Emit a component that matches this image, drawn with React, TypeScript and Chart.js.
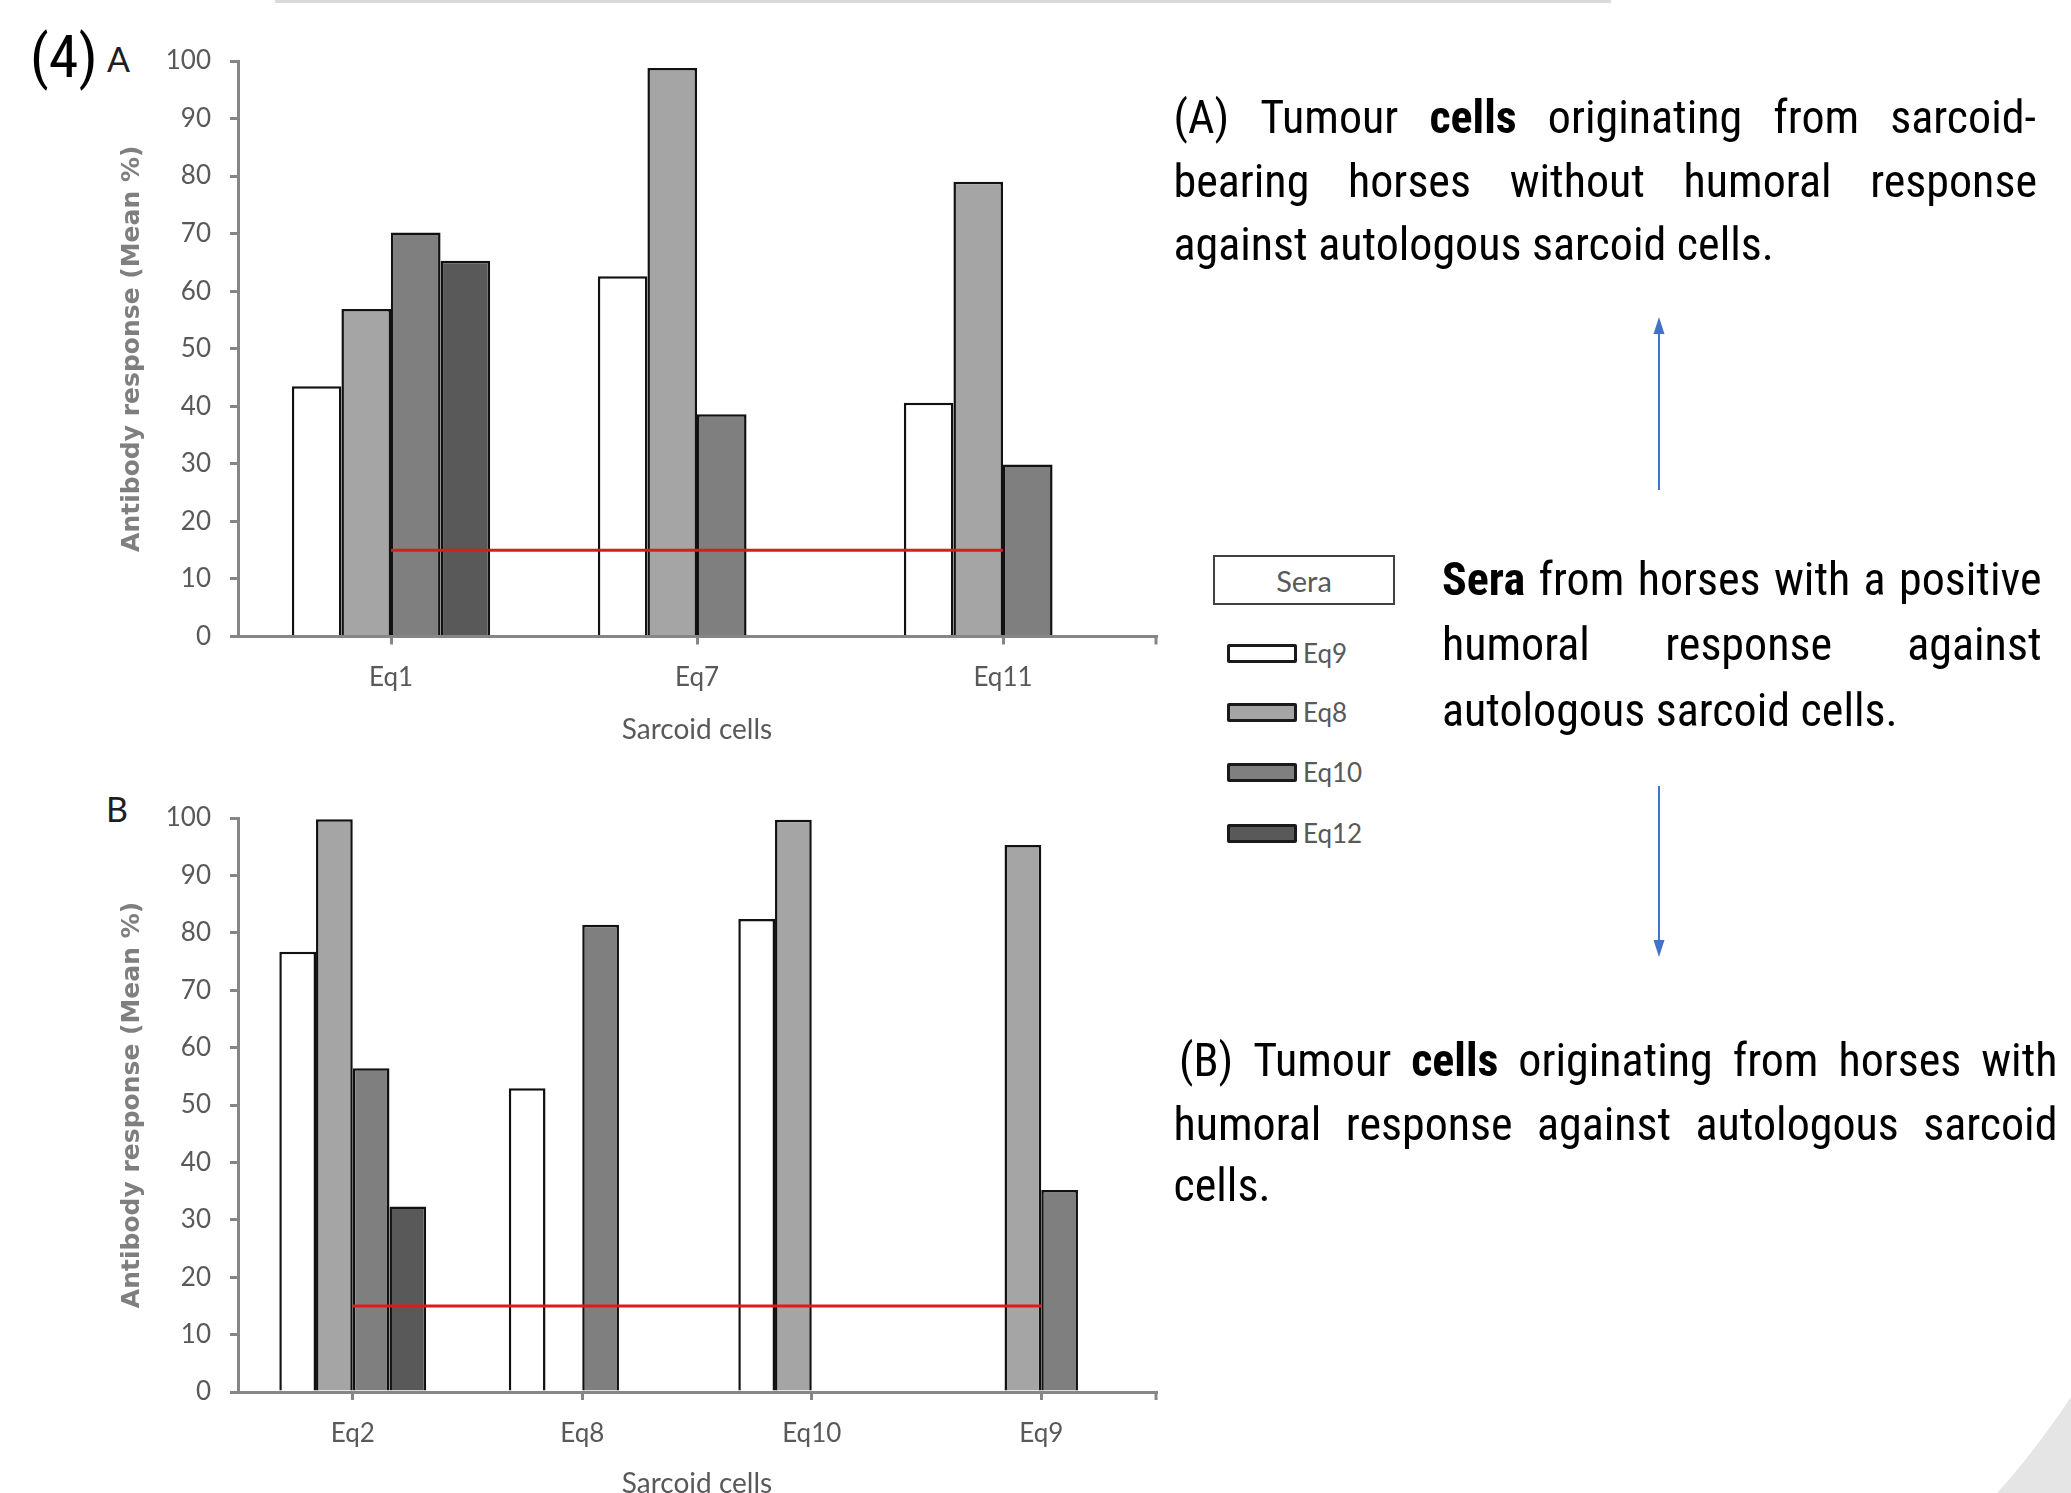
import React, { useEffect, useRef } from 'react';
import { Chart, registerables } from 'chart.js';

Chart.register(...registerables);

// ---------- data ----------
const seriesNames = ['Eq9', 'Eq8', 'Eq10', 'Eq12'];
const seriesColors = ['#ffffff', '#a5a5a5', '#7f7f7f', '#595959'];

const categoriesA = ['Eq1', 'Eq7', 'Eq11'];
const eq9A = [43.5, 62.6, 40.6];
const eq8A = [56.9, 98.8, 79.0];
const eq10A = [70.2, 38.6, 29.9];
const eq12A = [65.3, null, null];
const thresholdA = [15, 15, 15];

const categoriesB = ['Eq2', 'Eq8', 'Eq10', 'Eq9'];
const eq9B = [76.7, 52.9, 82.4, null];
const eq8B = [99.8, null, 99.7, 95.3];
const eq10B = [56.4, 81.4, null, 35.2];
const eq12B = [32.3, null, null, null];
const thresholdB = [15, 15, 15, 15];

const yAxisTitle = 'Antibody response (Mean %)';
const xAxisTitle = 'Sarcoid cells';

// ---------- styling ----------
const tickFont = 'Lato, "Open Sans", sans-serif';
const textFont = '"Liberation Sans Narrow", "Arial Narrow", "Roboto Condensed", "DejaVu Sans Condensed", Roboto, sans-serif';
const axisGray = '#868686';

const endTickPlugin = {
  id: 'endTick',
  afterDraw(chart: any) {
    const { ctx, chartArea } = chart;
    ctx.save();
    ctx.strokeStyle = axisGray;
    ctx.lineWidth = 3;
    ctx.beginPath();
    ctx.moveTo(chartArea.right, chartArea.bottom);
    ctx.lineTo(chartArea.right, chartArea.bottom + 8);
    ctx.stroke();
    ctx.restore();
  },
};

interface LayoutOpts {
  padTop: number;
  xHeight: number;
  catPct: number;
  xTitlePad: number;
}

function buildConfig(labels: string[], series: (number | null)[][], threshold: number[], lo: LayoutOpts): any {
  return {
    type: 'bar',
    data: {
      labels,
      datasets: [
        ...series.map((d, i) => ({
          type: 'bar',
          label: seriesNames[i],
          data: d,
          backgroundColor: seriesColors[i],
          borderColor: '#111111',
          borderWidth: 2.5,
          borderSkipped: 'start',
          categoryPercentage: lo.catPct,
          barPercentage: 1,
          order: 1,
        })),
        {
          type: 'line',
          label: 'threshold',
          data: threshold,
          borderColor: '#dc1c1c',
          borderWidth: 3,
          pointRadius: 0,
          fill: false,
          tension: 0,
          order: 0,
        },
      ],
    },
    options: {
      responsive: false,
      animation: false,
      devicePixelRatio: 1,
      layout: { padding: { top: lo.padTop, right: 44, left: 0, bottom: 0 } },
      plugins: { legend: { display: false }, tooltip: { enabled: false } },
      scales: {
        x: {
          offset: true,
          grid: { offset: false, drawOnChartArea: false, drawTicks: true, tickLength: 8, color: axisGray, lineWidth: 3 },
          border: { color: axisGray, width: 3 },
          ticks: { color: '#595959', font: { family: tickFont, size: 26 }, padding: 18, maxRotation: 0 },
          title: {
            display: true,
            text: xAxisTitle,
            color: '#595959',
            font: { family: tickFont, size: 28 },
            padding: { top: 0, bottom: lo.xTitlePad },
          },
          afterFit: (s: any) => {
            s.height = lo.xHeight;
          },
        },
        y: {
          min: 0,
          max: 100,
          ticks: { stepSize: 10, color: '#595959', font: { family: tickFont, size: 26 }, padding: 19 },
          grid: { drawOnChartArea: false, drawTicks: true, tickLength: 8, color: axisGray, lineWidth: 3 },
          border: { color: axisGray, width: 3 },
          title: {
            display: true,
            text: yAxisTitle,
            color: '#7f7f7f',
            font: { family: '"DejaVu Sans", sans-serif', size: 25, weight: 'bold' },
            padding: { top: 117, bottom: 0 },
          },
          afterFit: (s: any) => {
            s.width = 238;
          },
        },
      },
    },
    plugins: [endTickPlugin],
  };
}

function BarChart(props: {
  labels: string[];
  series: (number | null)[][];
  threshold: number[];
  lo: LayoutOpts;
  left: number;
  top: number;
  width: number;
  height: number;
}) {
  const ref = useRef<HTMLCanvasElement>(null);
  useEffect(() => {
    if (!ref.current) return;
    const chart = new Chart(ref.current, buildConfig(props.labels, props.series, props.threshold, props.lo));
    return () => chart.destroy();
  }, []);
  return (
    <canvas
      ref={ref}
      width={props.width}
      height={props.height}
      style={{ position: 'absolute', left: props.left, top: props.top, width: props.width, height: props.height, display: 'block' }}
    />
  );
}

// ---------- text helpers ----------
const TEXT_SIZE = 46;

function JLine(props: { left: number; right: number; cy: number; words: React.ReactNode[] }) {
  return (
    <div
      style={{
        position: 'absolute',
        left: props.left,
        top: props.cy - 35,
        width: props.right - props.left,
        height: 64,
        lineHeight: '64px',
        fontSize: TEXT_SIZE,
        fontFamily: textFont,
        color: '#000',
        display: 'flex',
        justifyContent: 'space-between',
        whiteSpace: 'nowrap',
      }}
    >
      {props.words.map((w, i) => (
        <span key={i}>{w}</span>
      ))}
    </div>
  );
}

function PLine(props: { left: number; cy: number; children: React.ReactNode }) {
  return (
    <div
      style={{
        position: 'absolute',
        left: props.left,
        top: props.cy - 35,
        height: 64,
        lineHeight: '64px',
        fontSize: TEXT_SIZE,
        fontFamily: textFont,
        color: '#000',
        whiteSpace: 'pre',
      }}
    >
      {props.children}
    </div>
  );
}

const B = (t: string) => <b>{t}</b>;

export default function App() {
  const legendY = [653, 712, 772, 833];
  return (
    <div
      style={{
        position: 'absolute',
        left: 0,
        top: 0,
        width: 2071,
        height: 1493,
        overflow: 'hidden',
        background: '#fff',
      }}
    >
      {/* top rule */}
      <div style={{ position: 'absolute', left: 275, top: 0, width: 1336, height: 3, background: '#dadada' }} />

      {/* panel labels */}
      <div style={{ position: 'absolute', left: 30, top: 27, fontSize: 60, lineHeight: 1, fontFamily: textFont, color: '#000' }}>(4)</div>
      <div style={{ position: 'absolute', left: 107, top: 42, fontSize: 34, lineHeight: 1, fontFamily: tickFont, color: '#1e1e1e' }}>A</div>
      <div style={{ position: 'absolute', left: 106, top: 792, fontSize: 34, lineHeight: 1, fontFamily: tickFont, color: '#1e1e1e' }}>B</div>

      <BarChart
        labels={categoriesA}
        series={[eq9A, eq8A, eq10A, eq12A]}
        threshold={thresholdA}
        lo={{ padTop: 61, xHeight: 123.5, catPct: 0.648, xTitlePad: 13.7 }}
        left={0}
        top={0}
        width={1200}
        height={760}
      />
      <BarChart
        labels={categoriesB}
        series={[eq9B, eq8B, eq10B, eq12B]}
        threshold={thresholdB}
        lo={{ padTop: 58, xHeight: 113, catPct: 0.64, xTitlePad: 4 }}
        left={0}
        top={760}
        width={1200}
        height={745}
      />

      {/* legend */}
      <div
        style={{
          position: 'absolute',
          left: 1213,
          top: 555,
          width: 182,
          height: 50,
          boxSizing: 'border-box',
          border: '2px solid #404040',
          display: 'flex',
          alignItems: 'center',
          justifyContent: 'center',
          fontFamily: tickFont,
          fontSize: 29,
          color: '#595959',
        }}
      >
        Sera
      </div>
      {seriesNames.map((name, i) => (
        <div
          key={name}
          style={{
            position: 'absolute',
            left: 1227,
            top: legendY[i] - 20,
            height: 40,
            display: 'flex',
            alignItems: 'center',
            fontFamily: tickFont,
            fontSize: 26,
            color: '#595959',
          }}
        >
          <div
            style={{
              width: 70,
              height: 19,
              boxSizing: 'border-box',
              border: '3px solid #1a1a1a',
              borderRadius: 2,
              background: seriesColors[i],
              marginRight: 6,
            }}
          />
          <span>{name}</span>
        </div>
      ))}

      {/* arrows */}
      <svg style={{ position: 'absolute', left: 0, top: 0 }} width={2071} height={1493}>
        <line x1={1659} y1={490} x2={1659} y2={330} stroke="#4472c4" strokeWidth={2} />
        <polygon points="1659,317 1653.5,334 1664.5,334" fill="#4472c4" />
        <line x1={1659} y1={786} x2={1659} y2={944} stroke="#4472c4" strokeWidth={2} />
        <polygon points="1659,957 1653.5,940 1664.5,940" fill="#4472c4" />
        <path d="M 2071 1397 Q 2032 1455 1997 1493 L 2071 1493 Z" fill="#e5e5e5" />
      </svg>

      {/* text block A */}
      <JLine left={1173.5} right={2036} cy={120} words={['(A)', 'Tumour', B('cells'), 'originating', 'from', 'sarcoid-']} />
      <JLine left={1173.5} right={2037} cy={184} words={['bearing', 'horses', 'without', 'humoral', 'response']} />
      <PLine left={1173.5} cy={247}>against autologous sarcoid cells.</PLine>

      {/* text block Sera */}
      <JLine left={1442} right={2041.5} cy={582} words={[B('Sera'), 'from', 'horses', 'with', 'a', 'positive']} />
      <JLine left={1442} right={2041.5} cy={647} words={['humoral', 'response', 'against']} />
      <PLine left={1442} cy={712.6}>autologous sarcoid cells.</PLine>

      {/* text block B */}
      <JLine left={1179} right={2057.5} cy={1063} words={['(B)', 'Tumour', B('cells'), 'originating', 'from', 'horses', 'with']} />
      <JLine left={1173.5} right={2057.5} cy={1127} words={['humoral', 'response', 'against', 'autologous', 'sarcoid']} />
      <PLine left={1173.5} cy={1188}>cells.</PLine>
    </div>
  );
}
